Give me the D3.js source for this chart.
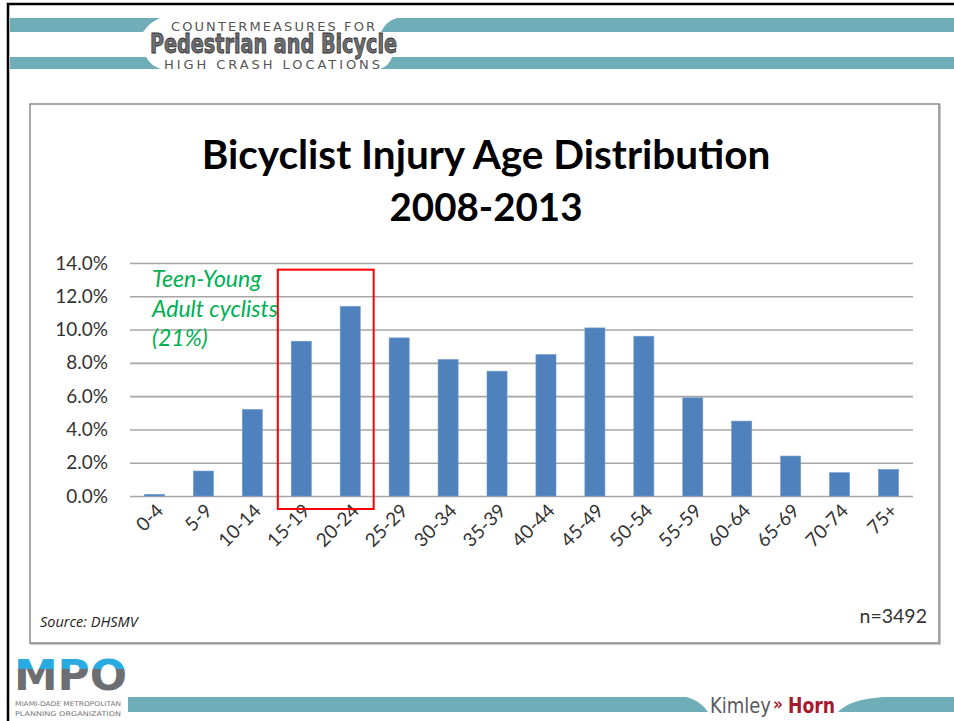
<!DOCTYPE html>
<html>
<head>
<meta charset="utf-8">
<script src="https://cdn.jsdelivr.net/npm/d3@7"></script>
<style>
  body { margin: 0; background: #fff; }
  svg { display: block; }
</style>
</head>
<body>
<div id="chart"></div>
<script>
// age groups and share of bicyclist injuries (%)
const ageGroups = ["0-4", "5-9", "10-14", "15-19", "20-24", "25-29", "30-34", "35-39",
                   "40-44", "45-49", "50-54", "55-59", "60-64", "65-69", "70-74", "75+"];
const injuryPct = [0.1, 1.5, 5.2, 9.3, 11.4, 9.5, 8.2, 7.5, 8.5, 10.1, 9.6, 5.9, 4.5, 2.4, 1.4, 1.6];
const yTicks = [0, 2, 4, 6, 8, 10, 12, 14];
const highlightGroups = ["15-19", "20-24"];
const titleLines = ["Bicyclist Injury Age Distribution", "2008-2013"];
const noteLines = ["Teen-Young", "Adult cyclists", "(21%)"];

const W = 954, H = 721;
const teal = "#6fadb8";
const font = "Lato, 'Open Sans', sans-serif";

const svg = d3.select("#chart").append("svg")
    .attr("width", W)
    .attr("height", H);

// slide border (left + top)
svg.append("path")
    .attr("d", `M8,${H} L8,4 L${W},4`)
    .attr("fill", "none")
    .attr("stroke", "#000")
    .attr("stroke-width", 2.5);

// ---- header banner ----
const header = svg.append("g").attr("class", "header");
// top band
header.append("path").attr("d", "M10,18 L160,18 Q150,22 143,32 L10,32 Z").attr("fill", teal);
header.append("path").attr("d", "M397,18 L954,18 L954,32 L381,32 Q386,21 397,18 Z").attr("fill", teal);
// bottom band
header.append("path").attr("d", "M10,57 L146,57 Q151,66 161,69 L10,69 Z").attr("fill", teal);
header.append("path").attr("d", "M392,57 L954,57 L954,69 L380,69 Q389,66 392,57 Z").attr("fill", teal);

header.append("text")
    .attr("x", 171).attr("y", 30.5)
    .attr("textLength", 204)
    .attr("lengthAdjust", "spacing")
    .attr("font-family", "'DejaVu Sans', sans-serif")
    .attr("font-size", 13)
    .attr("fill", "#555")
    .text("COUNTERMEASURES FOR");
header.append("text")
    .attr("x", 150).attr("y", 53)
    .attr("textLength", 247)
    .attr("lengthAdjust", "spacingAndGlyphs")
    .attr("font-family", "'DejaVu Sans Condensed', 'DejaVu Sans', sans-serif")
    .attr("font-weight", "bold")
    .attr("font-size", 26)
    .attr("fill", "#6d6e71")
    .attr("stroke", "#333")
    .attr("stroke-width", 0.8)
    .text("Pedestrian and Bicycle");
header.append("text")
    .attr("x", 164).attr("y", 69)
    .attr("textLength", 216)
    .attr("lengthAdjust", "spacing")
    .attr("font-family", "'DejaVu Sans', sans-serif")
    .attr("font-size", 13)
    .attr("fill", "#555")
    .text("HIGH CRASH LOCATIONS");

// ---- chart frame ----
svg.append("rect")
    .attr("x", 31).attr("y", 105)
    .attr("width", 909).attr("height", 539)
    .attr("fill", "none")
    .attr("stroke", "#c8c8c8")
    .attr("stroke-width", 2);
svg.append("rect")
    .attr("x", 30).attr("y", 104)
    .attr("width", 909).attr("height", 539)
    .attr("fill", "#fff")
    .attr("stroke", "#8c8c8c")
    .attr("stroke-width", 1.5);

// title
svg.append("g").selectAll("text")
    .data(titleLines)
    .join("text")
    .attr("x", 486)
    .attr("y", (d, i) => 169 + i * 52)
    .attr("text-anchor", "middle")
    .attr("font-family", font)
    .attr("font-weight", "bold")
    .attr("font-size", (d, i) => i === 0 ? 40.5 : 38.5)
    .attr("fill", "#000")
    .text(d => d);

// ---- plot ----
const plot = {left: 130, right: 913, top: 263, bottom: 496};

const xScale = d3.scaleBand()
    .domain(ageGroups)
    .range([plot.left, plot.right])
    .paddingInner(0.59)
    .paddingOuter(0.295);

const yScale = d3.scaleLinear()
    .domain([0, 14])
    .range([plot.bottom, plot.top]);

// gridlines + y labels
const yAxisG = svg.append("g")
    .attr("class", "yAxisG")
    .attr("transform", `translate(${plot.left},0)`)
    .call(d3.axisLeft(yScale)
        .tickValues(yTicks)
        .tickSize(-(plot.right - plot.left))
        .tickPadding(22)
        .tickFormat(d => d.toFixed(1) + "%"));
yAxisG.select(".domain").remove();
yAxisG.selectAll(".tick line")
    .attr("stroke", "#a6a6a6")
    .attr("stroke-width", 1.6);
yAxisG.selectAll(".tick text")
    .attr("font-family", font)
    .attr("font-size", 19)
    .attr("fill", "#333");

// bars
svg.append("g")
    .selectAll("rect")
    .data(ageGroups)
    .join("rect")
    .attr("x", d => xScale(d))
    .attr("y", (d, i) => yScale(injuryPct[i]))
    .attr("width", xScale.bandwidth())
    .attr("height", (d, i) => yScale(0) - yScale(injuryPct[i]))
    .attr("fill", "#4f81bd")
    .attr("stroke", "#6f9bd0")
    .attr("stroke-width", 0.6);

// x axis labels (rotated)
const xAxisG = svg.append("g")
    .attr("class", "xAxisG")
    .attr("transform", `translate(0,${plot.bottom})`)
    .call(d3.axisBottom(xScale).tickSize(0).tickPadding(0));
xAxisG.select(".domain").remove();
xAxisG.selectAll(".tick text")
    .attr("font-family", font)
    .attr("font-size", 19)
    .attr("fill", "#333")
    .attr("text-anchor", "end")
    .attr("dy", 0)
    .attr("transform", "translate(10,16) rotate(-45)");

// red highlight box
const boxX0 = xScale(highlightGroups[0]) - xScale.step() * xScale.paddingInner() / 2;
const boxX1 = xScale(highlightGroups[1]) + xScale.bandwidth() + xScale.step() * xScale.paddingInner() / 2;
svg.append("rect")
    .attr("x", boxX0 + 1)
    .attr("y", yScale(13.6))
    .attr("width", boxX1 - boxX0 - 2)
    .attr("height", yScale(0) + 13 - yScale(13.6))
    .attr("fill", "none")
    .attr("stroke", "#ff0000")
    .attr("stroke-width", 2);

// annotation
svg.append("g").selectAll("text")
    .data(noteLines)
    .join("text")
    .attr("x", 152)
    .attr("y", (d, i) => 287 + i * 29.5)
    .attr("font-family", font)
    .attr("font-style", "italic")
    .attr("font-size", 23)
    .attr("fill", "#00b050")
    .text(d => d);

// source + n
svg.append("text")
    .attr("x", 40).attr("y", 627)
    .attr("font-family", "'Open Sans', sans-serif")
    .attr("font-style", "italic")
    .attr("font-size", 14.5)
    .attr("fill", "#222")
    .text("Source: DHSMV");
svg.append("text")
    .attr("x", 927).attr("y", 623)
    .attr("text-anchor", "end")
    .attr("font-family", font)
    .attr("font-size", 19.5)
    .attr("fill", "#333")
    .text("n=3492");

// ---- footer ----
const footer = svg.append("g").attr("class", "footer");
footer.append("path").attr("d", "M128,697 L686,697 Q700,700 708,712 L128,712 Z").attr("fill", teal);
footer.append("path").attr("d", "M884,697 L954,697 L954,712 L838,712 Q850,699 884,697 Z").attr("fill", teal);

footer.append("text")
    .attr("x", 710).attr("y", 713)
    .attr("textLength", 61)
    .attr("lengthAdjust", "spacingAndGlyphs")
    .attr("font-family", "'DejaVu Sans Condensed', sans-serif")
    .attr("font-size", 22)
    .attr("fill", "#58595b")
    .text("Kimley");
footer.append("text")
    .attr("x", 773).attr("y", 710)
    .attr("font-family", "'DejaVu Sans Condensed', sans-serif")
    .attr("font-size", 17)
    .attr("font-weight", "bold")
    .attr("fill", "#a6192e")
    .text("»");
footer.append("text")
    .attr("x", 788).attr("y", 713)
    .attr("textLength", 47)
    .attr("lengthAdjust", "spacingAndGlyphs")
    .attr("font-family", "'DejaVu Sans Condensed', sans-serif")
    .attr("font-weight", "bold")
    .attr("font-size", 22)
    .attr("fill", "#a6192e")
    .text("Horn");

// MPO logo (approximation)
const defs = svg.append("defs");
defs.append("clipPath").attr("id", "logoTop")
    .append("rect").attr("x", 10).attr("y", 650).attr("width", 130).attr("height", 19);
defs.append("clipPath").attr("id", "logoBot")
    .append("rect").attr("x", 10).attr("y", 669).attr("width", 130).attr("height", 30);
const logoText = g => g.append("text")
    .attr("x", 14).attr("y", 690)
    .attr("textLength", 113)
    .attr("lengthAdjust", "spacingAndGlyphs")
    .attr("font-family", "'DejaVu Sans', sans-serif")
    .attr("font-weight", "bold")
    .attr("font-size", 42)
    .text("MPO");
logoText(footer.append("g").attr("clip-path", "url(#logoBot)")).attr("fill", "#6d6e71");
logoText(footer.append("g").attr("clip-path", "url(#logoTop)")).attr("fill", "#29abe2");
footer.selectAll(".logoSub")
    .data(["MIAMI-DADE METROPOLITAN", "PLANNING ORGANIZATION"])
    .join("text")
    .attr("class", "logoSub")
    .attr("x", 15)
    .attr("y", (d, i) => 706 + i * 9.5)
    .attr("textLength", 106)
    .attr("lengthAdjust", "spacingAndGlyphs")
    .attr("font-family", "'DejaVu Sans', sans-serif")
    .attr("font-size", 6.5)
    .attr("fill", "#777")
    .text(d => d);
</script>
</body>
</html>
